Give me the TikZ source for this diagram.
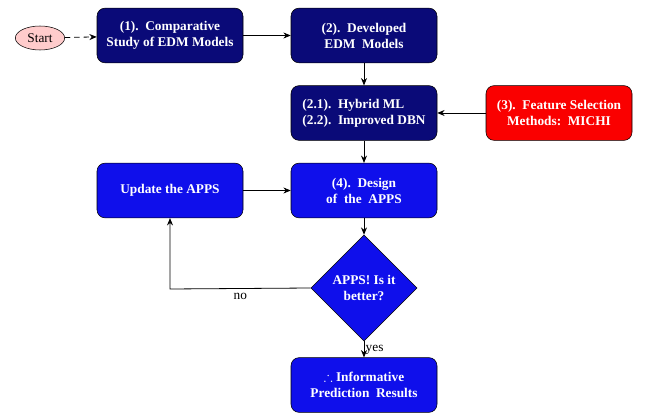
\documentclass[tikz,border=0pt]{standalone}
\usepackage{amssymb}
\usepackage{fontspec}
\setmainfont{Liberation Serif}[BoldFont={Liberation Serif Bold}]
\usetikzlibrary{shapes.geometric,arrows.meta}
\definecolor{navyblue}{RGB}{10,10,120}
\definecolor{brightblue}{RGB}{15,15,235}
\definecolor{brightred}{RGB}{250,0,0}
\tikzset{
  procbox/.style={draw=black, rounded corners=6pt, minimum width=109.5pt, minimum height=41pt, text=white, font=\bfseries, align=center, inner sep=2pt},
  darkbox/.style={procbox, fill=navyblue},
  bluebox/.style={procbox, fill=brightblue},
  redbox/.style={procbox, fill=brightred},
  decision/.style={diamond, draw=black, fill=brightblue, text=white, font=\bfseries, align=center, minimum width=79.5pt, minimum height=79.5pt, inner sep=0pt, aspect=1},
  startnode/.style={ellipse, draw=black, fill=red!20, minimum width=37pt, minimum height=18pt, inner sep=1pt},
  flow/.style={-{Stealth[length=5.5pt,width=4.5pt]}, semithick},
  lbl/.style={font=\normalsize}
}
\begin{document}
\begin{tikzpicture}[x=0.75pt,y=-0.75pt]
\useasboundingbox (0,0) rectangle (670,416);
\node[startnode] (start) at (40,38) {Start};
\node[darkbox] (b1) at (170,35.5) {(1).\ \ Comparative\\Study of EDM Models};
\node[darkbox] (b2) at (364,35.5) {(2).\ \ Developed\\EDM\ \ Models};
\node[darkbox, align=left] (b21) at (364,113) {(2.1).\ \ Hybrid ML\\(2.2).\ \ Improved DBN};
\node[redbox] (b3) at (559,113) {(3).\ \ Feature Selection\\Methods:\ \ MICHI};
\node[bluebox] (b4) at (364,190.5) {(4).\ \ Design\\of\ \ the\ \ APPS};
\node[bluebox] (upd) at (170,190.5) {Update the APPS};
\node[decision] (dec) at (364,288) {APPS! Is it\\better?};
\node[bluebox] (res) at (364,385) {$\therefore$\ Informative\\Prediction\ \ Results};
\coordinate (corner) at (170,289);
\draw[flow, dash pattern=on 4pt off 3pt] (start) -- (b1);
\draw[flow] (b1) -- (b2);
\draw[flow] (b2) -- (b21);
\draw[flow] (b3) -- (b21);
\draw[flow] (b21) -- (b4);
\draw[flow] (upd) -- (b4);
\draw[flow] (b4) -- (dec);
\draw[flow] (dec.west) -- (corner) node[lbl, pos=0.5, below] {no} -- (upd.south);
\draw[flow] (dec.south) -- (res.north) node[lbl, midway, right, inner sep=1pt] {yes};
\end{tikzpicture}
\end{document}
